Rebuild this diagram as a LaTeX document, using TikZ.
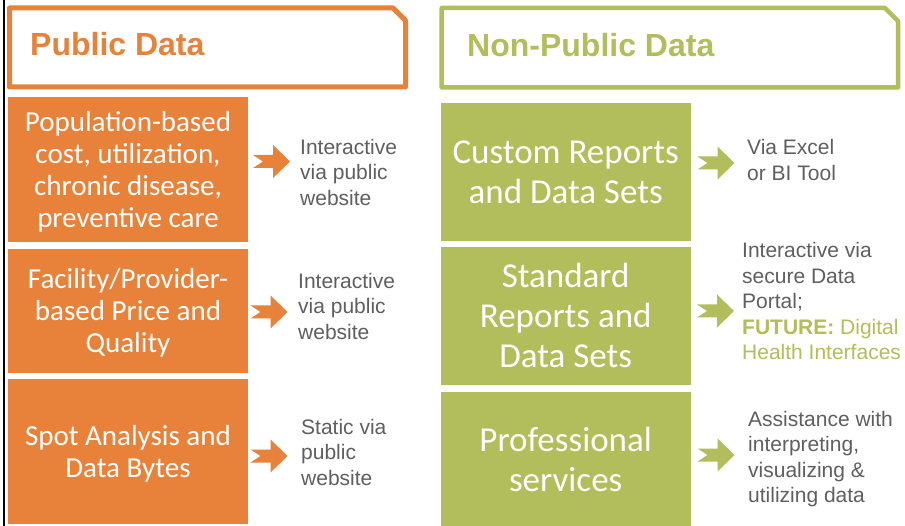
\documentclass[tikz,border=0pt]{standalone}
\usepackage{fontspec}
\setmainfont{Carlito}
\newfontfamily\arialf{Liberation Sans}
\definecolor{orng}{RGB}{232,130,58}
\definecolor{olv}{RGB}{178,189,91}
\definecolor{gtxt}{RGB}{95,95,95}
\tikzset{
  obox/.style={fill=orng, draw=none, text=white, inner sep=0pt, align=center, minimum width=240pt, font=\fontsize{29}{32}\selectfont},
  gbox/.style={fill=olv, draw=none, text=white, inner sep=0pt, align=center, minimum width=250pt, font=\fontsize{35}{40}\selectfont},
  side/.style={anchor=west, inner sep=0pt, align=left, text=gtxt, font=\arialf\fontsize{21}{25.5}\selectfont},
  head/.style={anchor=base west, inner sep=0pt, font=\arialf\bfseries\fontsize{32}{38}\selectfont},
  chev/.pic={\fill[pic actions] (-18.5,-6.5) -- (1.5,-6.5) -- (1.5,-16.5) -- (18.5,0) -- (1.5,16.5) -- (1.5,6.5) -- (-18.5,6.5) -- (-8.5,0) -- cycle;}
}
\begin{document}
\begin{tikzpicture}[x=1pt,y=-1pt]
\useasboundingbox[fill=white] (0,0) rectangle (905,526);
% left black rule
\draw[line width=2pt, black] (3.7,0) -- (3.7,526);
% headers
\draw[orng, line width=5pt, line join=round] (9.5,8) -- (393,8) -- (405.5,20.5) -- (405.5,87) -- (9.5,87) -- cycle;
\node[head, text=orng] (hp) at (30,56) {Public Data};
\draw[olv, line width=4.5pt, line join=round] (441.7,8) -- (885,8) -- (898,21) -- (898,87.5) -- (441.7,87.5) -- cycle;
\node[head, text=olv] (hn) at (467,57) {Non-Public Data};
% orange boxes
\node[obox, minimum height=144.7pt] (o1) at (128,169.3) {};
\node[obox, minimum height=123.4pt] (o2) at (128,311) {};
\node[obox, minimum height=144.7pt] (o3) at (128,451.7) {};
\node[obox, fill=none] (o1t) at (128,171.3) {Population-based\\cost, utilization,\\chronic disease,\\preventive care};
\node[obox, fill=none] (o2t) at (128,313) {Facility/Provider-\\based Price and\\Quality};
\node[obox, fill=none] (o3t) at (128,453.7) {Spot Analysis and\\Data Bytes};
% green boxes
\node[gbox, minimum height=138pt] (g1) at (565.7,171.7) {};
\node[gbox, minimum height=138.3pt] (g2) at (565.7,315.9) {};
\node[gbox, minimum height=134pt] (g3) at (565.7,459) {};
\node[gbox, fill=none] (g1t) at (565.7,172.7) {Custom Reports\\and Data Sets};
\node[gbox, fill=none] (g2t) at (565.7,315.9) {Standard\\Reports and\\Data Sets};
\node[gbox, fill=none] (g3t) at (565.7,459) {Professional\\services};
% arrows
\pic[fill=orng] at (271.5,161.5) {chev};
\pic[fill=orng] at (269,312) {chev};
\pic[fill=orng] at (269,456) {chev};
\pic[fill=olv] at (716,163) {chev};
\pic[fill=olv] at (715.5,311) {chev};
\pic[fill=olv] at (716,455) {chev};
% side texts
\node[side] (s1) at (300,172) {Interactive\\via public\\website};
\node[side] (s2) at (298,306) {Interactive\\via public\\website};
\node[side] (s3) at (301,452) {Static via\\public\\website};
\node[side] (t1) at (747,160) {Via Excel\\or BI Tool};
\node[side] (t2) at (742,301) {Interactive via\\secure Data\\Portal;\\{\color{olv}\textbf{FUTURE:} Digital}\\{\color{olv}Health Interfaces}};
\node[side] (t3) at (748,459) {Assistance with\\interpreting,\\visualizing \&\\utilizing data};
\end{tikzpicture}
\end{document}
